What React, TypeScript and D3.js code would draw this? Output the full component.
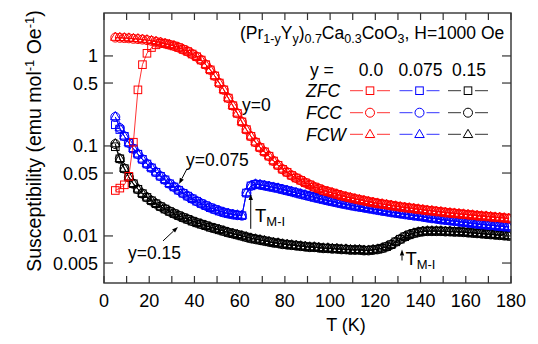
import React from "react";
import * as d3 from "d3";

// temperatures (K) of the measured points
const temps = [
  5, 7, 9, 11, 13, 15, 17, 19, 21, 23, 25, 27, 29, 31, 33, 35, 37, 39, 41, 43,
  45, 47, 49, 51, 53, 55, 57, 59, 61, 63, 65, 67, 69, 71, 73, 75, 77, 79, 81, 83,
  85, 87, 89, 91, 93, 95, 97, 99, 101, 103, 105, 107, 109, 111, 113, 115, 117, 119, 121, 123,
  125, 127, 129, 131, 133, 135, 137, 139, 141, 143, 145, 147, 149, 151, 153, 155, 157, 159, 161, 163,
  165, 167, 169, 171, 173, 175, 177, 179,
];

// field-cooled susceptibility (FCC / FCW) per composition
const fcY0 = [
  1.6, 1.59, 1.58, 1.57, 1.55, 1.54, 1.52, 1.5, 1.47, 1.44, 1.41, 1.37, 1.33, 1.29, 1.24, 1.18, 1.12, 1.05, 0.98, 0.9,
  0.8, 0.7, 0.6, 0.5, 0.42, 0.34, 0.28, 0.23, 0.185, 0.152, 0.128, 0.11, 0.096, 0.086, 0.077, 0.068, 0.061, 0.055, 0.051, 0.047,
  0.044, 0.0415, 0.039, 0.037, 0.035, 0.0335, 0.032, 0.031, 0.03, 0.029, 0.028, 0.0272, 0.0265, 0.0258, 0.0252, 0.0246, 0.024, 0.0235, 0.023, 0.0226,
  0.0222, 0.0218, 0.0214, 0.021, 0.0207, 0.0204, 0.0201, 0.0198, 0.0195, 0.0192, 0.019, 0.0187, 0.0185, 0.0182, 0.018, 0.0178, 0.0176, 0.0174, 0.0172, 0.017,
  0.0168, 0.0166, 0.0165, 0.0163, 0.0161, 0.016, 0.0158, 0.0156,
];
const fcY075 = [
  0.21, 0.158, 0.128, 0.108, 0.093, 0.081, 0.071, 0.063, 0.057, 0.051, 0.046, 0.042, 0.038, 0.035, 0.0322, 0.0298, 0.0277, 0.0259, 0.0243, 0.0229,
  0.0217, 0.0206, 0.0197, 0.0189, 0.0182, 0.0177, 0.0173, 0.017, 0.0168, 0.03, 0.036, 0.0375, 0.037, 0.0362, 0.0354, 0.0346, 0.0338, 0.0328, 0.0319, 0.031,
  0.0301, 0.0292, 0.0284, 0.0276, 0.0268, 0.0261, 0.0254, 0.0247, 0.0241, 0.0235, 0.0229, 0.0224, 0.0219, 0.0214, 0.021, 0.0206, 0.0202, 0.0198, 0.0194, 0.019,
  0.0187, 0.0183, 0.018, 0.0177, 0.0174, 0.0171, 0.0168, 0.0166, 0.0163, 0.016, 0.0157, 0.0155, 0.0152, 0.015, 0.0148, 0.0146, 0.0144, 0.0142, 0.014, 0.0138,
  0.0136, 0.0134, 0.0133, 0.0131, 0.013, 0.0128, 0.0127, 0.0126,
];
const fcY015 = [
  0.105, 0.072, 0.056, 0.045, 0.038, 0.033, 0.0295, 0.0268, 0.0246, 0.0228, 0.0212, 0.0199, 0.0187, 0.0177, 0.0168, 0.016, 0.0153, 0.0146, 0.014, 0.0135,
  0.013, 0.0125, 0.0121, 0.0117, 0.0113, 0.0109, 0.0106, 0.0103, 0.01, 0.0097, 0.0094, 0.0092, 0.009, 0.0088, 0.0086, 0.0084, 0.0083, 0.0081, 0.008, 0.0079,
  0.0078, 0.0077, 0.0076, 0.0075, 0.0075, 0.0074, 0.0073, 0.0073, 0.0072, 0.0072, 0.0071, 0.0071, 0.007, 0.007, 0.007, 0.0069, 0.0069, 0.007, 0.0071, 0.0073,
  0.0076, 0.008, 0.0086, 0.0092, 0.0098, 0.0103, 0.0107, 0.011, 0.0112, 0.0113, 0.0113, 0.0113, 0.0113, 0.0112, 0.0112, 0.0111, 0.0111, 0.011, 0.0109, 0.0108,
  0.0107, 0.0106, 0.0105, 0.0104, 0.0103, 0.0102, 0.0101, 0.01,
];

// zero-field-cooled points where they leave the FC curve (lowest temperatures)
const zfcLowY0 = [0.032, 0.034, 0.037, 0.046, 0.11, 0.42, 0.8, 1.07, 1.24, 1.33, 1.38];
const zfcLowY075 = [0.172, 0.152];
const zfcLowY015 = [0.098];

const compositions = ["0.0", "0.075", "0.15"];
const colors = ["#ff0000", "#0000ff", "#000000"];
const modes = ["ZFC", "FCC", "FCW"];
const yTicks = [1, 0.5, 0.1, 0.05, 0.01, 0.005];
const xTicks = d3.range(0, 181, 10);
const xLabels = d3.range(0, 181, 20);

const W = 538;
const H = 344;
const margin = { top: 13, right: 27, bottom: 61, left: 104 };
const font = "'Liberation Sans', Arial, Helvetica, sans-serif";

const x = d3.scaleLinear().domain([0, 180]).range([margin.left, W - margin.right]);
const y = d3.scaleLog().domain([0.003, 3]).range([H - margin.bottom, margin.top]);

const Marker = ({ kind, cx, cy, color }: { kind: string; cx: number; cy: number; color: string }) => {
  if (kind === "ZFC")
    return <rect x={cx - 3.8} y={cy - 3.8} width={7.6} height={7.6} fill="none" stroke={color} strokeWidth={1} />;
  if (kind === "FCC") return <circle cx={cx} cy={cy} r={4.5} fill="none" stroke={color} strokeWidth={1} />;
  const s = 9.5;
  const p = `M${cx},${cy - s * 0.577}L${cx + s / 2},${cy + s * 0.289}L${cx - s / 2},${cy + s * 0.289}Z`;
  return <path d={p} fill="none" stroke={color} strokeWidth={1} />;
};

const Arrow = ({ x1, y1, x2, y2 }: { x1: number; y1: number; x2: number; y2: number }) => {
  const a = Math.atan2(y2 - y1, x2 - x1);
  const L = 6;
  const w = 2.2;
  const bx = x2 - L * Math.cos(a);
  const by = y2 - L * Math.sin(a);
  const px = -Math.sin(a) * w;
  const py = Math.cos(a) * w;
  return (
    <g>
      <line x1={x1} y1={y1} x2={bx} y2={by} stroke="#000" strokeWidth={1} />
      <path d={`M${x2},${y2}L${bx + px},${by + py}L${bx - px},${by - py}Z`} fill="#000" />
    </g>
  );
};

export default function App() {
  const fcs = [fcY0, fcY075, fcY015];
  const zfcLows = [zfcLowY0, zfcLowY075, zfcLowY015];
  const series = fcs.map((fc, i) => ({
    color: colors[i],
    ZFC: zfcLows[i].concat(fc.slice(zfcLows[i].length)),
    FCC: fc,
    FCW: fc,
  }));
  const line = d3
    .line<number>()
    .x((_, i) => x(temps[i]))
    .y((d) => y(d));

  const legendCols = [370, 419.5, 468];
  const legendRows = [90.7, 112.7, 134.3];

  return (
    <svg width={W} height={H} style={{ position: "absolute", left: 0, top: 0 }} fontFamily={font}>
      <rect width={W} height={H} fill="#fff" />
      <defs>
        <clipPath id="plot">
          <rect x={margin.left} y={margin.top} width={W - margin.left - margin.right} height={H - margin.top - margin.bottom} />
        </clipPath>
      </defs>

      <g clipPath="url(#plot)">
        {[2, 1, 0].map((si) => {
          const s = series[si];
          return (
            <g key={si}>
              {modes.map((m) => (
                <path key={m} d={line((s as any)[m]) || ""} fill="none" stroke={s.color} strokeWidth={0.8} />
              ))}
              {modes.map((m) =>
                ((s as any)[m] as number[]).map((v, i) => (
                  <Marker key={m + i} kind={m} cx={x(temps[i])} cy={y(v)} color={s.color} />
                ))
              )}
            </g>
          );
        })}
      </g>

      {/* frame and ticks */}
      <rect
        x={margin.left}
        y={margin.top}
        width={W - margin.left - margin.right}
        height={H - margin.top - margin.bottom}
        fill="none"
        stroke="#333"
        strokeWidth={1.4}
      />
      {xTicks.map((t) => (
        <g key={"xt" + t} stroke="#333" strokeWidth={1.2}>
          <line x1={x(t)} x2={x(t)} y1={H - margin.bottom} y2={H - margin.bottom - 7} />
          <line x1={x(t)} x2={x(t)} y1={margin.top} y2={margin.top + 7} />
        </g>
      ))}
      {yTicks.map((t) => (
        <g key={"yt" + t} stroke="#333" strokeWidth={1.2}>
          <line x1={margin.left} x2={margin.left + 9} y1={y(t)} y2={y(t)} />
          <line x1={W - margin.right} x2={W - margin.right - 9} y1={y(t)} y2={y(t)} />
        </g>
      ))}
      {xLabels.map((t) => (
        <text key={"xl" + t} x={x(t)} y={307} fontSize={18} textAnchor="middle" fill="#000">
          {t}
        </text>
      ))}
      {yTicks.map((t) => (
        <text key={"yl" + t} x={98} y={y(t) + 6.5} fontSize={18} textAnchor="end" fill="#000">
          {t}
        </text>
      ))}

      <text x={346} y={331} fontSize={18} textAnchor="middle">
        T (K)
      </text>
      <text transform="translate(41,141) rotate(-90)" fontSize={19.5} textAnchor="middle">
        Susceptibility (emu mol
        <tspan fontSize={13} dy={-7}>-1</tspan>
        <tspan dy={7}> Oe</tspan>
        <tspan fontSize={13} dy={-7}>-1</tspan>
        <tspan dy={7}>)</tspan>
      </text>

      {/* title */}
      <text x={240} y={39} fontSize={17.5}>
        (Pr<tspan fontSize={12.5} dy={4}>1-y</tspan>
        <tspan dy={-4}>Y</tspan>
        <tspan fontSize={12.5} dy={4}>y</tspan>
        <tspan dy={-4}>)</tspan>
        <tspan fontSize={12.5} dy={4}>0.7</tspan>
        <tspan dy={-4}>Ca</tspan>
        <tspan fontSize={12.5} dy={4}>0.3</tspan>
        <tspan dy={-4}>CoO</tspan>
        <tspan fontSize={12.5} dy={4}>3</tspan>
        <tspan dy={-4}>, H=1000 Oe</tspan>
      </text>

      {/* legend */}
      <text x={310} y={76} fontSize={17.5}>
        y =
      </text>
      {compositions.map((c, i) => (
        <text key={c} x={legendCols[i] + 1} y={76} fontSize={17.5} textAnchor="middle">
          {c}
        </text>
      ))}
      {modes.map((m, r) => (
        <g key={m}>
          <text x={306} y={legendRows[r] + 6.4} fontSize={17.5} fontStyle="italic">
            {m}
          </text>
          {colors.map((c, i) => (
            <g key={c}>
              <line x1={legendCols[i] - 20} x2={legendCols[i] + 20} y1={legendRows[r]} y2={legendRows[r]} stroke={c} strokeWidth={0.8} />
              <rect x={legendCols[i] - 7} y={legendRows[r] - 6} width={14} height={12} fill="#fff" />
              <Marker kind={m} cx={legendCols[i]} cy={legendRows[r] + (m === "FCW" ? 0.5 : 0)} color={c} />
            </g>
          ))}
        </g>
      ))}

      {/* annotations */}
      <text x={x(61)} y={y(0.245)} fontSize={17.5}>
        y=0
      </text>
      <text x={x(36.3)} y={y(0.0598)} fontSize={17.5}>
        y=0.075
      </text>
      <Arrow x1={x(36.7)} y1={y(0.0557)} x2={x(33.2)} y2={y(0.0377)} />
      <text x={x(10.6)} y={y(0.0055)} fontSize={17.5}>
        y=0.15
      </text>
      <Arrow x1={x(26.1)} y1={y(0.0088)} x2={x(32.7)} y2={y(0.0126)} />

      <Arrow x1={x(64.9)} y1={y(0.012)} x2={x(64.9)} y2={y(0.0292)} />
      <text x={x(66.8)} y={221.5} fontSize={18.5}>
        T<tspan fontSize={13} dy={4}>M-I</tspan>
      </text>
      <Arrow x1={x(131.8)} y1={260.5} x2={x(131.8)} y2={249.5} />
      <text x={x(133.3)} y={265} fontSize={18.5}>
        T<tspan fontSize={13} dy={4}>M-I</tspan>
      </text>
    </svg>
  );
}
